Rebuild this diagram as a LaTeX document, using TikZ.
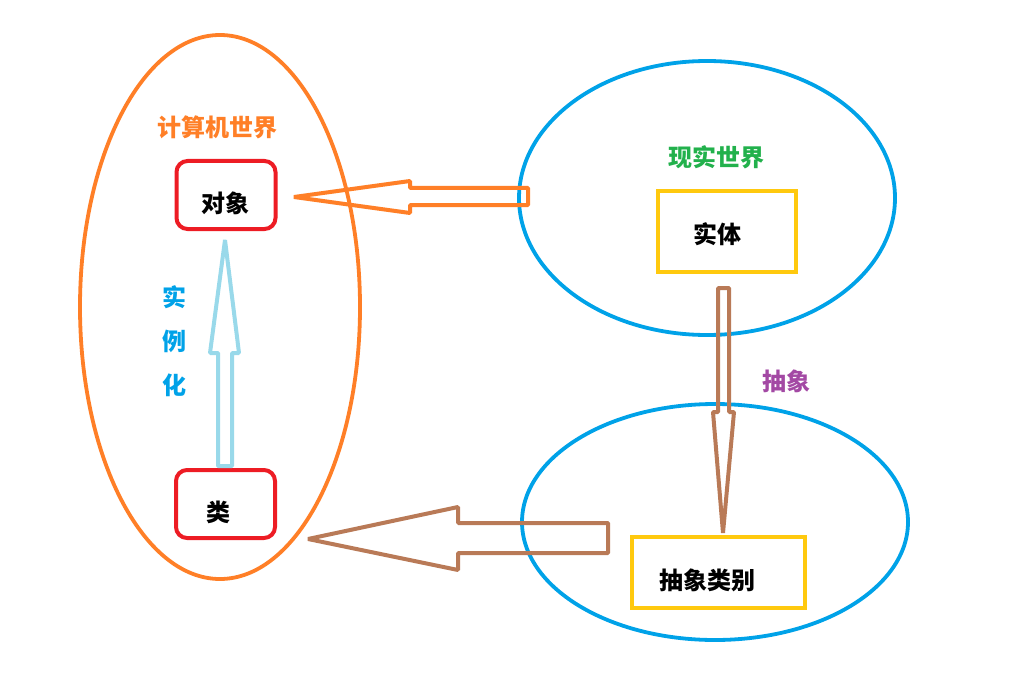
\documentclass[tikz,border=0pt]{standalone}
\usepackage{fontspec}
\newfontfamily\cjk{Noto Sans CJK SC}
\usepackage{tikz}
\usetikzlibrary{calc,positioning}

\definecolor{paintorange}{HTML}{FF7F27}
\definecolor{paintred}{HTML}{ED1C24}
\definecolor{paintblue}{HTML}{00A2E8}
\definecolor{paintyellow}{HTML}{FFC90E}
\definecolor{paintsky}{HTML}{99D9EA}
\definecolor{paintbrown}{HTML}{B97A57}
\definecolor{paintgreen}{HTML}{22B14C}
\definecolor{paintpurple}{HTML}{A349A4}

\tikzset{
  objbox/.style={draw=paintred, line width=4pt, rounded corners=11pt,
    minimum width=99pt, minimum height=68pt},
  realbox/.style={draw=paintyellow, line width=4.5pt},
  boxtext/.style={font=\cjk\bfseries\fontsize{24}{28}\selectfont, inner sep=0pt},
  world/.style={line width=3.8pt},
  blockarrow/.style={line width=4pt, line join=bevel},
  title/.style={font=\cjk\bfseries\fontsize{24}{28}\selectfont, inner sep=0pt}
}

\begin{document}
\begin{tikzpicture}[x=1pt, y=-1pt, line cap=round]
    \useasboundingbox (0,0) rectangle (1011,679);

    % the three worlds
    \draw[world, paintorange] (220,307) ellipse (140pt and 272pt);
    \draw[world, paintblue] (707,198) ellipse (188pt and 137pt);
    \draw[world, paintblue] (715,522) ellipse (193pt and 118pt);

    % titles
    \node[title, text=paintorange] (pcworld) at (217,127) {计算机世界};
    \node[title, text=paintgreen] (realworld) at (716,157) {现实世界};
    \node[title, text=paintpurple] (abstr) at (786,381) {抽象};
    \node[title, text=paintblue, align=center] (inst) at (174,341)
        {实\\[16pt]例\\[16pt]化};

    % boxes
    \node[objbox] (obj) at (226,195) {};
    \node[objbox] (cls) at (225.5,504) {};
    \node[realbox, minimum width=138pt, minimum height=81pt] (entity) at (727,231.5) {};
    \node[realbox, minimum width=173pt, minimum height=71pt] (abscls) at (718.5,572.5) {};

    % box texts
    \node[boxtext] (objtxt) at ([shift={(-1,8)}]obj.center) {对象};
    \node[boxtext] (clstxt) at ([shift={(-7,8)}]cls.center) {类};
    \node[boxtext] (entitytxt) at ([shift={(-10,2.5)}]entity.center) {实体};
    \node[boxtext] (absclstxt) at ([shift={(-11,7.5)}]abscls.center) {抽象类别};

    % block arrows
    \draw[blockarrow, paintorange]
        (294,197) -- (410,181) -- (410,188) -- (528,188)
        -- (528,205) -- (410,205) -- (410,213) -- cycle;
    \draw[blockarrow, paintsky]
        (225,240) -- (239,353) -- (232,353) -- (232,466)
        -- (218,466) -- (218,353) -- (210,353) -- cycle;
    \draw[blockarrow, paintbrown]
        (723,533) -- (734,412) -- (729,412) -- (729,288)
        -- (718,288) -- (718,412) -- (713,412) -- cycle;
    \draw[blockarrow, paintbrown]
        (308,539) -- (458,507) -- (458,523) -- (608,523)
        -- (608,553) -- (458,553) -- (458,570) -- cycle;
\end{tikzpicture}
\end{document}
